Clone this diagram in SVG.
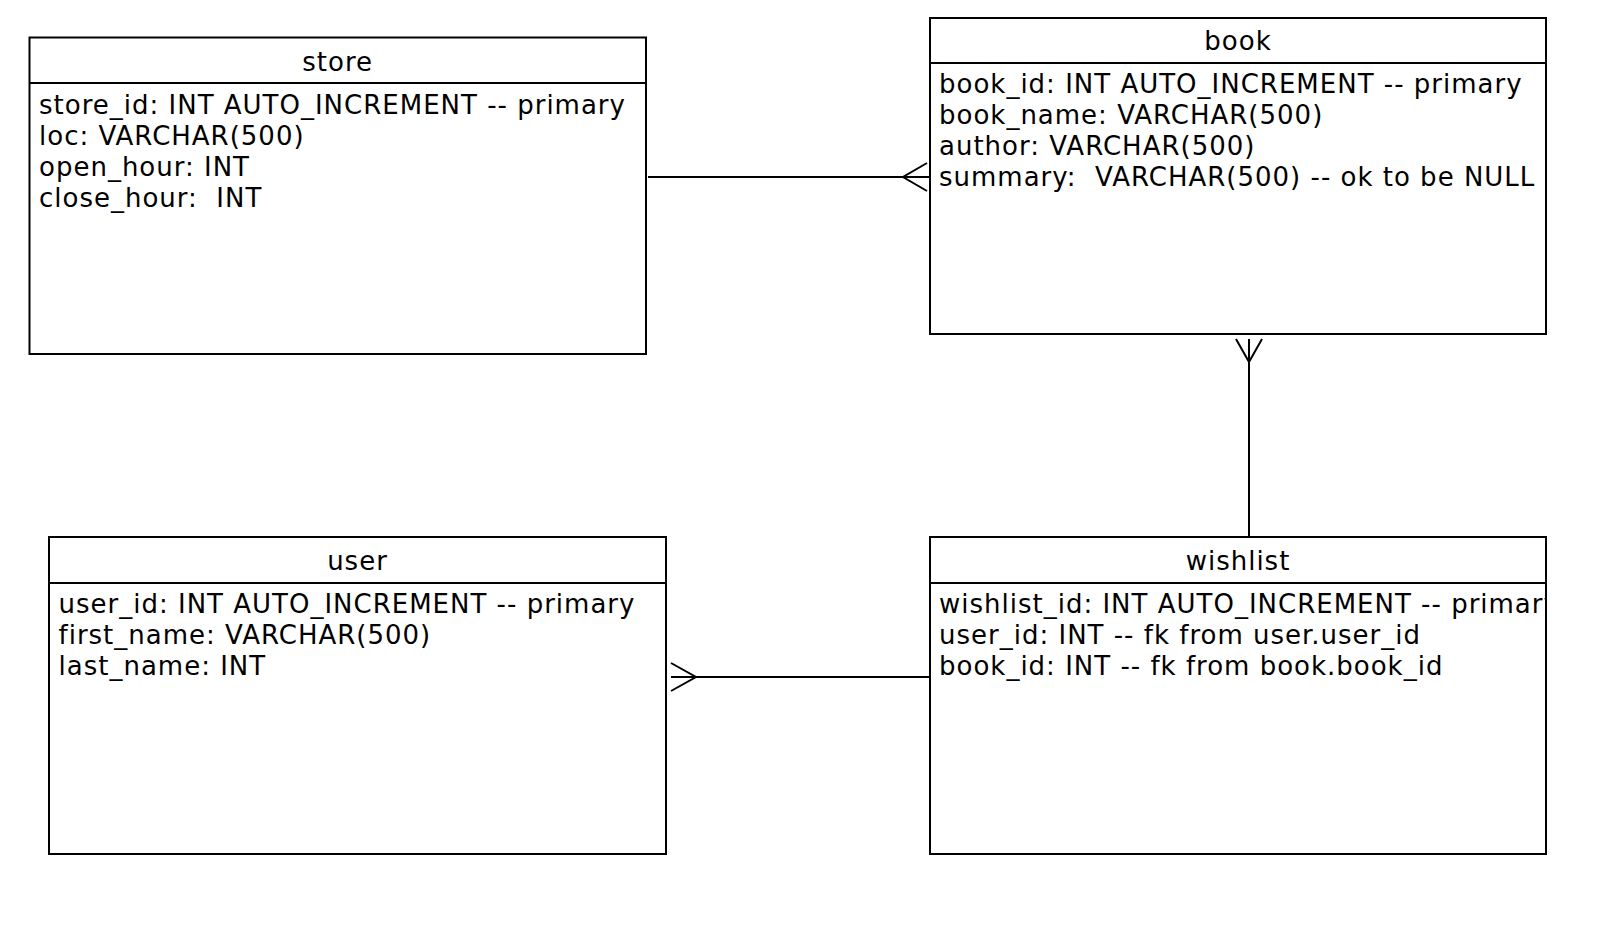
<svg xmlns="http://www.w3.org/2000/svg" width="1624" height="938" viewBox="0 0 1624 938">
<style>
.box{fill:#fff;stroke:#000;stroke-width:2}
.sep{stroke:#000;stroke-width:2}
.title{font-family:"DejaVu Sans","Liberation Sans",sans-serif;font-size:26px;text-anchor:middle;fill:#000;letter-spacing:1px}
.row{font-family:"DejaVu Sans","Liberation Sans",sans-serif;font-size:26px;fill:#000;letter-spacing:1px;white-space:pre}
.conn{stroke:#000;stroke-width:2;fill:none}
</style>
<defs>
<clipPath id="clipWish"><rect x="930" y="583" width="615" height="270"/></clipPath>
</defs>
<rect width="1624" height="938" fill="#fff"/>
<g id="connectors">
<line class="conn" x1="648" y1="177" x2="930" y2="177"/>
<polyline class="conn" points="927,163 903,177 927,191"/>
<line class="conn" x1="1249" y1="339" x2="1249" y2="537"/>
<polyline class="conn" points="1236,339 1249,362 1262,339"/>
<line class="conn" x1="671" y1="677" x2="930" y2="677"/>
<polyline class="conn" points="671,663 696,677 671,691"/>
</g>
<g id="store">
<rect class="box" x="29.5" y="37.5" width="616.5" height="316.5"/>
<line class="sep" x1="29.5" y1="83" x2="646" y2="83"/>
<text class="title" x="337.7" y="71">store</text>
<text class="row" x="39" y="113.5">store_id: INT AUTO_INCREMENT -- primary</text>
<text class="row" x="39" y="144.5">loc: VARCHAR(500)</text>
<text class="row" x="39" y="175.5">open_hour: INT</text>
<text class="row" x="39" y="206.5" xml:space="preserve">close_hour:  INT</text>
</g>
<g id="book">
<rect class="box" x="930" y="18" width="616" height="316"/>
<line class="sep" x1="930" y1="63" x2="1546" y2="63"/>
<text class="title" x="1238" y="50">book</text>
<text class="row" x="939" y="93">book_id: INT AUTO_INCREMENT -- primary</text>
<text class="row" x="939" y="124">book_name: VARCHAR(500)</text>
<text class="row" x="939" y="155">author: VARCHAR(500)</text>
<text class="row" x="939" y="186" xml:space="preserve">summary:  VARCHAR(500) -- ok to be NULL</text>
</g>
<g id="user">
<rect class="box" x="49" y="537" width="617" height="317"/>
<line class="sep" x1="49" y1="583" x2="666" y2="583"/>
<text class="title" x="357.5" y="570">user</text>
<text class="row" x="58.5" y="613">user_id: INT AUTO_INCREMENT -- primary</text>
<text class="row" x="58.5" y="644">first_name: VARCHAR(500)</text>
<text class="row" x="58.5" y="675">last_name: INT</text>
</g>
<g id="wishlist">
<rect class="box" x="930" y="537" width="616" height="317"/>
<line class="sep" x1="930" y1="583" x2="1546" y2="583"/>
<text class="title" x="1238" y="570">wishlist</text>
<g clip-path="url(#clipWish)">
<text class="row" x="939" y="613">wishlist_id: INT AUTO_INCREMENT -- primary</text>
<text class="row" x="939" y="644">user_id: INT -- fk from user.user_id</text>
<text class="row" x="939" y="675">book_id: INT -- fk from book.book_id</text>
</g>
</g>
</svg>
